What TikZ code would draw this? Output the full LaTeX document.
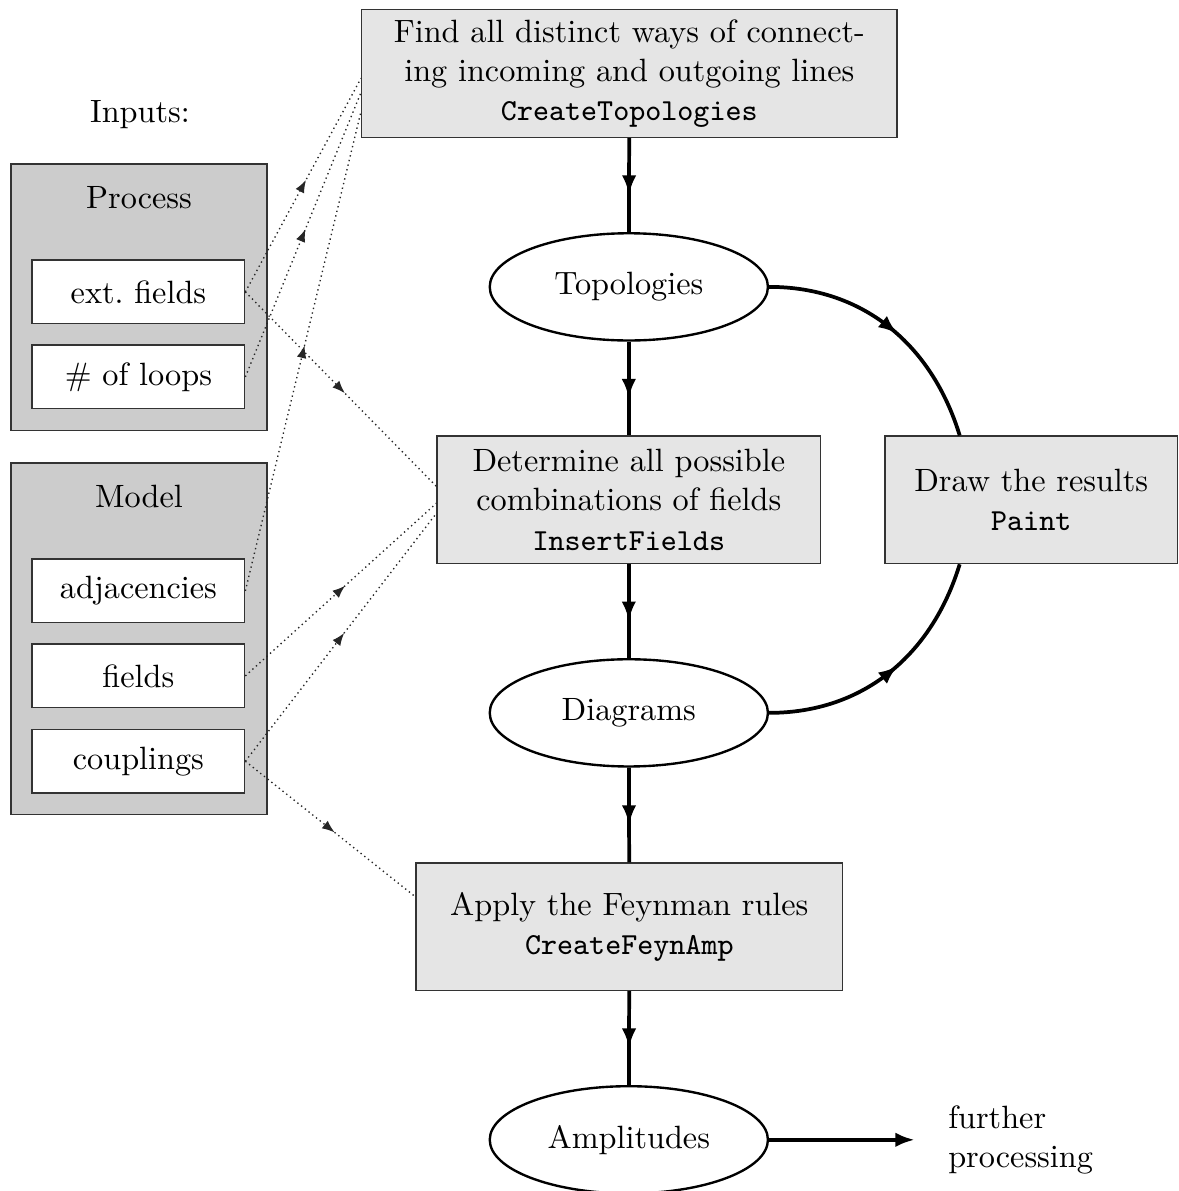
\documentclass[tikz,border=0pt]{standalone}
\usetikzlibrary{shapes.geometric,arrows.meta,decorations.markings}

\newcommand{\fcall}[1]{{\fontsize{9}{11.6}\selectfont\ttfamily #1}}

\tikzset{
  midarrow/.style={postaction={decorate},decoration={markings,
      mark=at position 0.5 with {\arrow[xshift=1mm]{Latex[length=2mm,width=1.5mm]}}}},
  smallarrow/.style={postaction={decorate},decoration={markings,
      mark=at position 0.5 with {\arrow[xshift=0.6mm]{Latex[length=1.3mm,width=1mm]}}}},
  stepbox/.style={draw=black!80,fill=gray!20,align=center,minimum height=1.32cm,inner sep=2pt},
  datanode/.style={ellipse,draw,line width=0.7pt,minimum width=2.88cm,minimum height=1.11cm,inner sep=0pt},
  inputgroup/.style={draw=black!80,fill=gray!40,minimum width=2.65cm},
  inputbox/.style={draw=black!80,fill=white,minimum width=2.2cm,minimum height=0.66cm,inner sep=0pt},
  flow/.style={line width=1.1pt,midarrow},
  feed/.style={densely dotted,line width=0.4pt,black!85,smallarrow}
}

\begin{document}
\begin{tikzpicture}[font=\fontsize{9.5}{11.6}\selectfont]
  \useasboundingbox (0,0) rectangle (12.2,-12.33);

  \node[stepbox,minimum width=5.54cm] at (6.515,-0.761) (find)
    {Find all distinct ways of connect-\\ing incoming and outgoing lines\\\fcall{CreateTopologies}};
  \node[datanode] at (6.51,-2.97) (topo) {Topologies};
  \node[stepbox,minimum width=3.97cm] at (6.51,-5.175) (insert)
    {Determine all possible\\combinations of fields\\\fcall{InsertFields}};
  \node[stepbox,minimum width=3.03cm] at (10.676,-5.175) (paint)
    {Draw the results\\\fcall{Paint}};
  \node[datanode] at (6.51,-7.38) (diag) {Diagrams};
  \node[stepbox,minimum width=4.42cm] at (6.515,-9.594) (feyn)
    {Apply the Feynman rules\\\fcall{CreateFeynAmp}};
  \node[datanode] at (6.51,-11.8) (ampl) {Amplitudes};
  \node[align=left,anchor=west,inner sep=0pt] at (9.81,-11.8) (further) {further\\processing};

  \node at (1.449,-1.19) (inputs) {Inputs:};
  \node[inputgroup,minimum height=2.76cm] at (1.439,-3.079) (process) {};
  \node at (1.439,-2.049) (processlabel) {Process};
  \node[inputbox] at (1.433,-3.022) (ext) {ext.\ fields};
  \node[inputbox] at (1.433,-3.902) (loops) {\# of loops};
  \node[inputgroup,minimum height=3.64cm] at (1.439,-6.614) (model) {};
  \node at (1.439,-5.144) (modellabel) {Model};
  \node[inputbox] at (1.433,-6.117) (adj) {adjacencies};
  \node[inputbox] at (1.433,-6.997) (fields) {fields};
  \node[inputbox] at (1.433,-7.881) (coup) {couplings};

  \draw[flow] (find) -- (topo);
  \draw[flow] (topo) -- (insert);
  \draw[flow] (insert) -- (diag);
  \draw[flow] (diag) -- (feyn);
  \draw[flow] (feyn) -- (ampl);
  \draw[flow] (topo.east) to[out=0,in=107] (paint.138);
  \draw[flow] (diag.east) to[out=0,in=-107] (paint.222);
  \draw[line width=1.1pt,-{Latex[length=2mm,width=1.5mm]},shorten >=0.34cm] (ampl.east) -- (further.west);

  \draw[feed] (ext.east) -- (find.181);
  \draw[feed] (loops.east) -- (find.184);
  \draw[feed] (adj.east) -- (find.188);
  \draw[feed] (ext.east) -- (insert.176);
  \draw[feed] (fields.east) -- (insert.181);
  \draw[feed] (coup.east) -- (insert.184);
  \draw[feed] (coup.east) -- (feyn.172);
\end{tikzpicture}
\end{document}
